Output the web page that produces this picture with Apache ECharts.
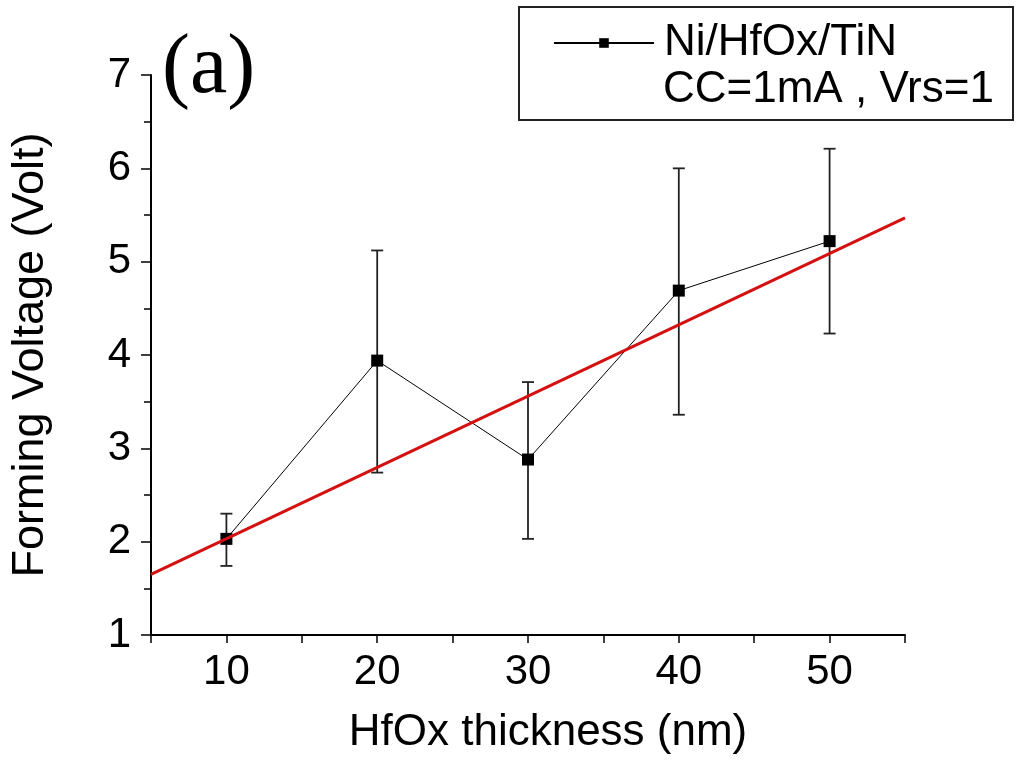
<!DOCTYPE html>
<html>
<head>
<meta charset="utf-8">
<script src="https://cdn.jsdelivr.net/npm/echarts@6/dist/echarts.min.js"></script>
<style>
html,body{margin:0;padding:0;background:#fff;}
#chart{width:1022px;height:762px;}
</style>
</head>
<body>
<div id="chart"></div>
<script>
// Data
const thickness = [10, 20, 30, 40, 50];
const formingV = [2.03, 3.94, 2.88, 4.69, 5.22];
const errLow = [1.74, 2.74, 2.03, 3.36, 4.23];
const errHigh = [2.30, 5.12, 3.71, 6.00, 6.21];
const fitX = [5, 55];
const fitY = [1.65, 5.47];
const xTickLabels = ['10', '20', '30', '40', '50'];
const seriesName = 'Ni/HfOx/TiN';
const noteText = 'CC=1mA , Vrs=1';

const font = '"Liberation Sans", Arial, sans-serif';
const chart = echarts.init(document.getElementById('chart'), null, {renderer: 'canvas'});

const mainData = thickness.map((x, i) => [x, formingV[i]]);
const errData = thickness.map((x, i) => [x, errLow[i], errHigh[i]]);
const fitData = fitX.map((x, i) => [x, fitY[i]]);

chart.setOption({
  animation: false,
  backgroundColor: '#fff',
  grid: {left: 150, right: 117, top: 75, bottom: 127, containLabel: false},
  xAxis: {
    type: 'value', min: 5, max: 55, interval: 5,
    name: 'HfOx thickness (nm)', nameLocation: 'middle', nameGap: 76,
    nameTextStyle: {fontFamily: font, fontSize: 44, color: '#000', padding: [0, 0, 0, 40]},
    axisLine: {show: true, onZero: false, lineStyle: {color: '#000', width: 2}},
    axisTick: {show: true, inside: false, length: 8, lineStyle: {color: '#000', width: 1.5}},
    axisLabel: {
      margin: 16, fontFamily: font, fontSize: 42, color: '#000',
      formatter: v => xTickLabels.includes(String(v)) ? String(v) : ''
    },
    splitLine: {show: false}
  },
  yAxis: {
    type: 'value', min: 1, max: 7, interval: 1,
    name: 'Forming Voltage (Volt)', nameLocation: 'middle', nameGap: 98, nameRotate: 90,
    nameTextStyle: {fontFamily: font, fontSize: 45, color: '#000'},
    axisLine: {show: true, onZero: false, lineStyle: {color: '#000', width: 2}},
    axisTick: {show: true, inside: false, length: 10, lineStyle: {color: '#000', width: 1.5}},
    minorTick: {show: true, splitNumber: 2, length: 7, lineStyle: {color: '#000', width: 1.5}},
    axisLabel: {margin: 20, fontFamily: font, fontSize: 42, color: '#000'},
    splitLine: {show: false}
  },
  legend: {
    show: true, data: [seriesName], left: 548, top: 16,
    itemWidth: 100, itemHeight: 12, itemGap: 0,
    textStyle: {fontFamily: font, fontSize: 44, color: '#000', padding: [0, 0, 0, 5]},
    selectedMode: false
  },
  graphic: [
    {type: 'rect', z: 100, shape: {x: 519, y: 7, width: 494, height: 113},
     style: {fill: 'none', stroke: '#222', lineWidth: 2}},
    {type: 'text', z: 100, left: 663, top: 68,
     style: {text: noteText, font: '44px ' + font, fill: '#000'}},
    {type: 'text', z: 100, left: 162, top: 28,
     style: {text: '(a)', font: '84px "Liberation Serif", "Times New Roman", serif', fill: '#000'}}
  ],
  series: [
    {
      name: 'errbars', type: 'custom', z: 3,
      data: errData,
      encode: {x: 0, y: [1, 2]},
      renderItem: function (params, api) {
        const x = api.value(0);
        const lo = api.coord([x, api.value(1)]);
        const hi = api.coord([x, api.value(2)]);
        const hw = 6;
        const st = {stroke: '#222', lineWidth: 1.8};
        return {type: 'group', children: [
          {type: 'line', shape: {x1: lo[0], y1: lo[1], x2: hi[0], y2: hi[1]}, style: st},
          {type: 'line', shape: {x1: lo[0] - hw, y1: lo[1], x2: lo[0] + hw, y2: lo[1]}, style: st},
          {type: 'line', shape: {x1: hi[0] - hw, y1: hi[1], x2: hi[0] + hw, y2: hi[1]}, style: st}
        ]};
      }
    },
    {
      name: seriesName, type: 'line', z: 4,
      data: mainData,
      symbol: 'rect', symbolSize: 12,
      lineStyle: {color: '#000', width: 1},
      itemStyle: {color: '#000'}
    },
    {
      name: 'fit', type: 'line', z: 5,
      data: fitData, symbol: 'none',
      lineStyle: {color: '#d41010', width: 3}
    }
  ]
});
</script>
</body>
</html>
